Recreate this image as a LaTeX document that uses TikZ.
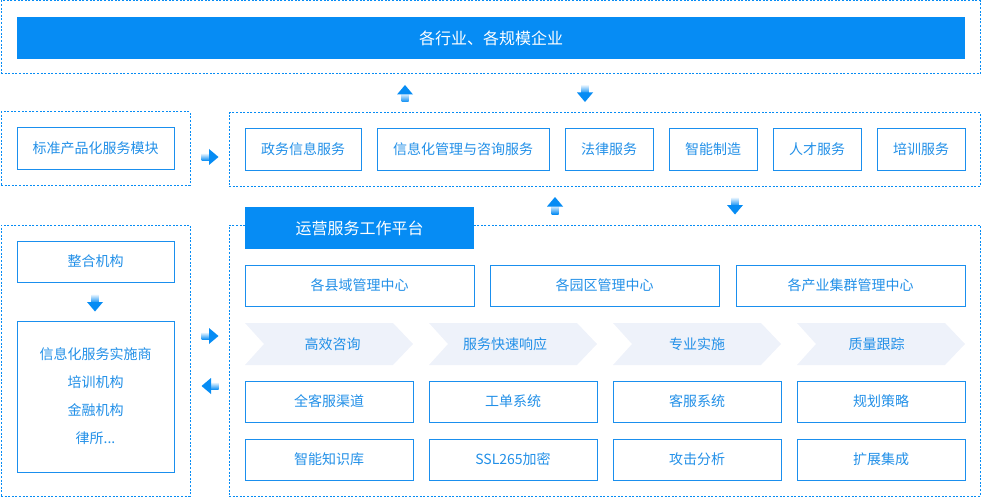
\documentclass[tikz,border=0pt]{standalone}
\usepackage{fontspec}
\setmainfont{Noto Sans CJK SC}
\usetikzlibrary{positioning}
\definecolor{mainblue}{HTML}{068CF4}
\definecolor{lineblue}{HTML}{1A8FEE}
\definecolor{txtblue}{HTML}{2290E8}
\definecolor{chevfill}{HTML}{EEF2FA}
\tikzset{
  zone/.style={draw=mainblue, line width=1pt, dash pattern=on 2pt off 1.6pt, inner sep=0pt},
  banner/.style={fill=mainblue, text=white, inner sep=0pt, font=\fontsize{16}{18}\selectfont},
  itembox/.style={draw=lineblue, line width=1pt, fill=white, inner sep=0pt, text=txtblue, font=\fontsize{14}{16}\selectfont},
  chevlabel/.style={text=txtblue, font=\fontsize{14}{16}\selectfont, inner sep=0pt},
  arrdown/.pic={
    \shade[top color=mainblue!8, bottom color=mainblue] (-3.5,-8.5) rectangle (3.5,0);
    \fill[mainblue] (-8,-1) -- (8,-1) -- (0,8.5) -- cycle;
  }
}
\begin{document}
\begin{tikzpicture}[x=1pt,y=-1pt]
\useasboundingbox (0,0) rectangle (981,497);
% top zone
\node[zone, minimum width=979pt, minimum height=73pt] (topzone) at (490.5,37.5) {};
\node[banner, minimum width=948pt, minimum height=42pt] (topbanner) at (491,38) {各行业、各规模企业};
% arrows between top and row 2
\pic[rotate=180] at (405,93.5) {arrdown};
\pic at (585,93.5) {arrdown};
% row 2 left
\node[zone, minimum width=189pt, minimum height=73pt] (stdzone) at (95.5,148.5) {};
\node[itembox, minimum width=157pt, minimum height=41pt] (stdbox) at (95.5,148.5) {标准产品化服务模块};
\pic[rotate=90] at (210,157) {arrdown};
% row 2 right
\node[zone, minimum width=751pt, minimum height=73pt] (servzone) at (604.5,149.5) {};
\node[itembox, minimum width=116pt, minimum height=41pt] (s1) at (303,149.5) {政务信息服务};
\node[itembox, minimum width=172pt, minimum height=41pt] (s2) at (463,149.5) {信息化管理与咨询服务};
\node[itembox, minimum width=88pt, minimum height=41pt] (s3) at (609,149.5) {法律服务};
\node[itembox, minimum width=88pt, minimum height=41pt] (s4) at (713,149.5) {智能制造};
\node[itembox, minimum width=88pt, minimum height=41pt] (s5) at (817,149.5) {人才服务};
\node[itembox, minimum width=88pt, minimum height=41pt] (s6) at (921,149.5) {培训服务};
% arrows between row 2 and platform
\pic[rotate=180] at (555,205.5) {arrdown};
\pic at (735,206) {arrdown};
% platform zone
\node[zone, minimum width=751pt, minimum height=271pt] (platzone) at (604.5,360.5) {};
\node[banner, minimum width=229pt, minimum height=42pt] (platbanner) at (359.5,228) {运营服务工作平台};
\node[itembox, minimum width=229pt, minimum height=41pt] (c1) at (359.5,285.5) {各县域管理中心};
\node[itembox, minimum width=229pt, minimum height=41pt] (c2) at (604.5,285.5) {各园区管理中心};
\node[itembox, minimum width=229pt, minimum height=41pt] (c3) at (850.5,285.5) {各产业集群管理中心};
% chevrons
\foreach \x/\tx/\t/\n in {245/332.5/高效咨询/ch1, 429/505/服务快速响应/ch2, 613/697/专业实施/ch3, 797/876.5/质量跟踪/ch4}{
  \fill[chevfill] (\x,323) -- (\x+148,323) -- (\x+168,344) -- (\x+148,365) -- (\x,365) -- (\x+19,344) -- cycle;
  \node[chevlabel] (\n) at (\tx,344) {\t};
}
% rows 4 and 5
\node[itembox, minimum width=168pt, minimum height=41pt] (r1) at (329,401.5) {全客服渠道};
\node[itembox, minimum width=168pt, minimum height=41pt] (r2) at (513,401.5) {工单系统};
\node[itembox, minimum width=168pt, minimum height=41pt] (r3) at (697,401.5) {客服系统};
\node[itembox, minimum width=168pt, minimum height=41pt] (r4) at (881,401.5) {规划策略};
\node[itembox, minimum width=168pt, minimum height=41pt] (q1) at (329,459.5) {智能知识库};
\node[itembox, minimum width=168pt, minimum height=41pt] (q2) at (513,459.5) {SSL265加密};
\node[itembox, minimum width=168pt, minimum height=41pt] (q3) at (697,459.5) {攻击分析};
\node[itembox, minimum width=168pt, minimum height=41pt] (q4) at (881,459.5) {扩展集成};
% left bottom zone
\node[zone, minimum width=189pt, minimum height=271pt] (orgzone) at (95.5,360.5) {};
\node[itembox, minimum width=157pt, minimum height=41pt] (zh) at (95.5,261.5) {整合机构};
\pic at (95,303) {arrdown};
\node[itembox, minimum width=157pt, minimum height=151pt, align=center, font=\fontsize{14}{28}\selectfont] (orgs) at (95.5,396.5) {信息化服务实施商\\培训机构\\金融机构\\律所...};
% side arrows
\pic[rotate=90] at (210,336) {arrdown};
\pic[rotate=-90] at (210,386) {arrdown};
\end{tikzpicture}
\end{document}
